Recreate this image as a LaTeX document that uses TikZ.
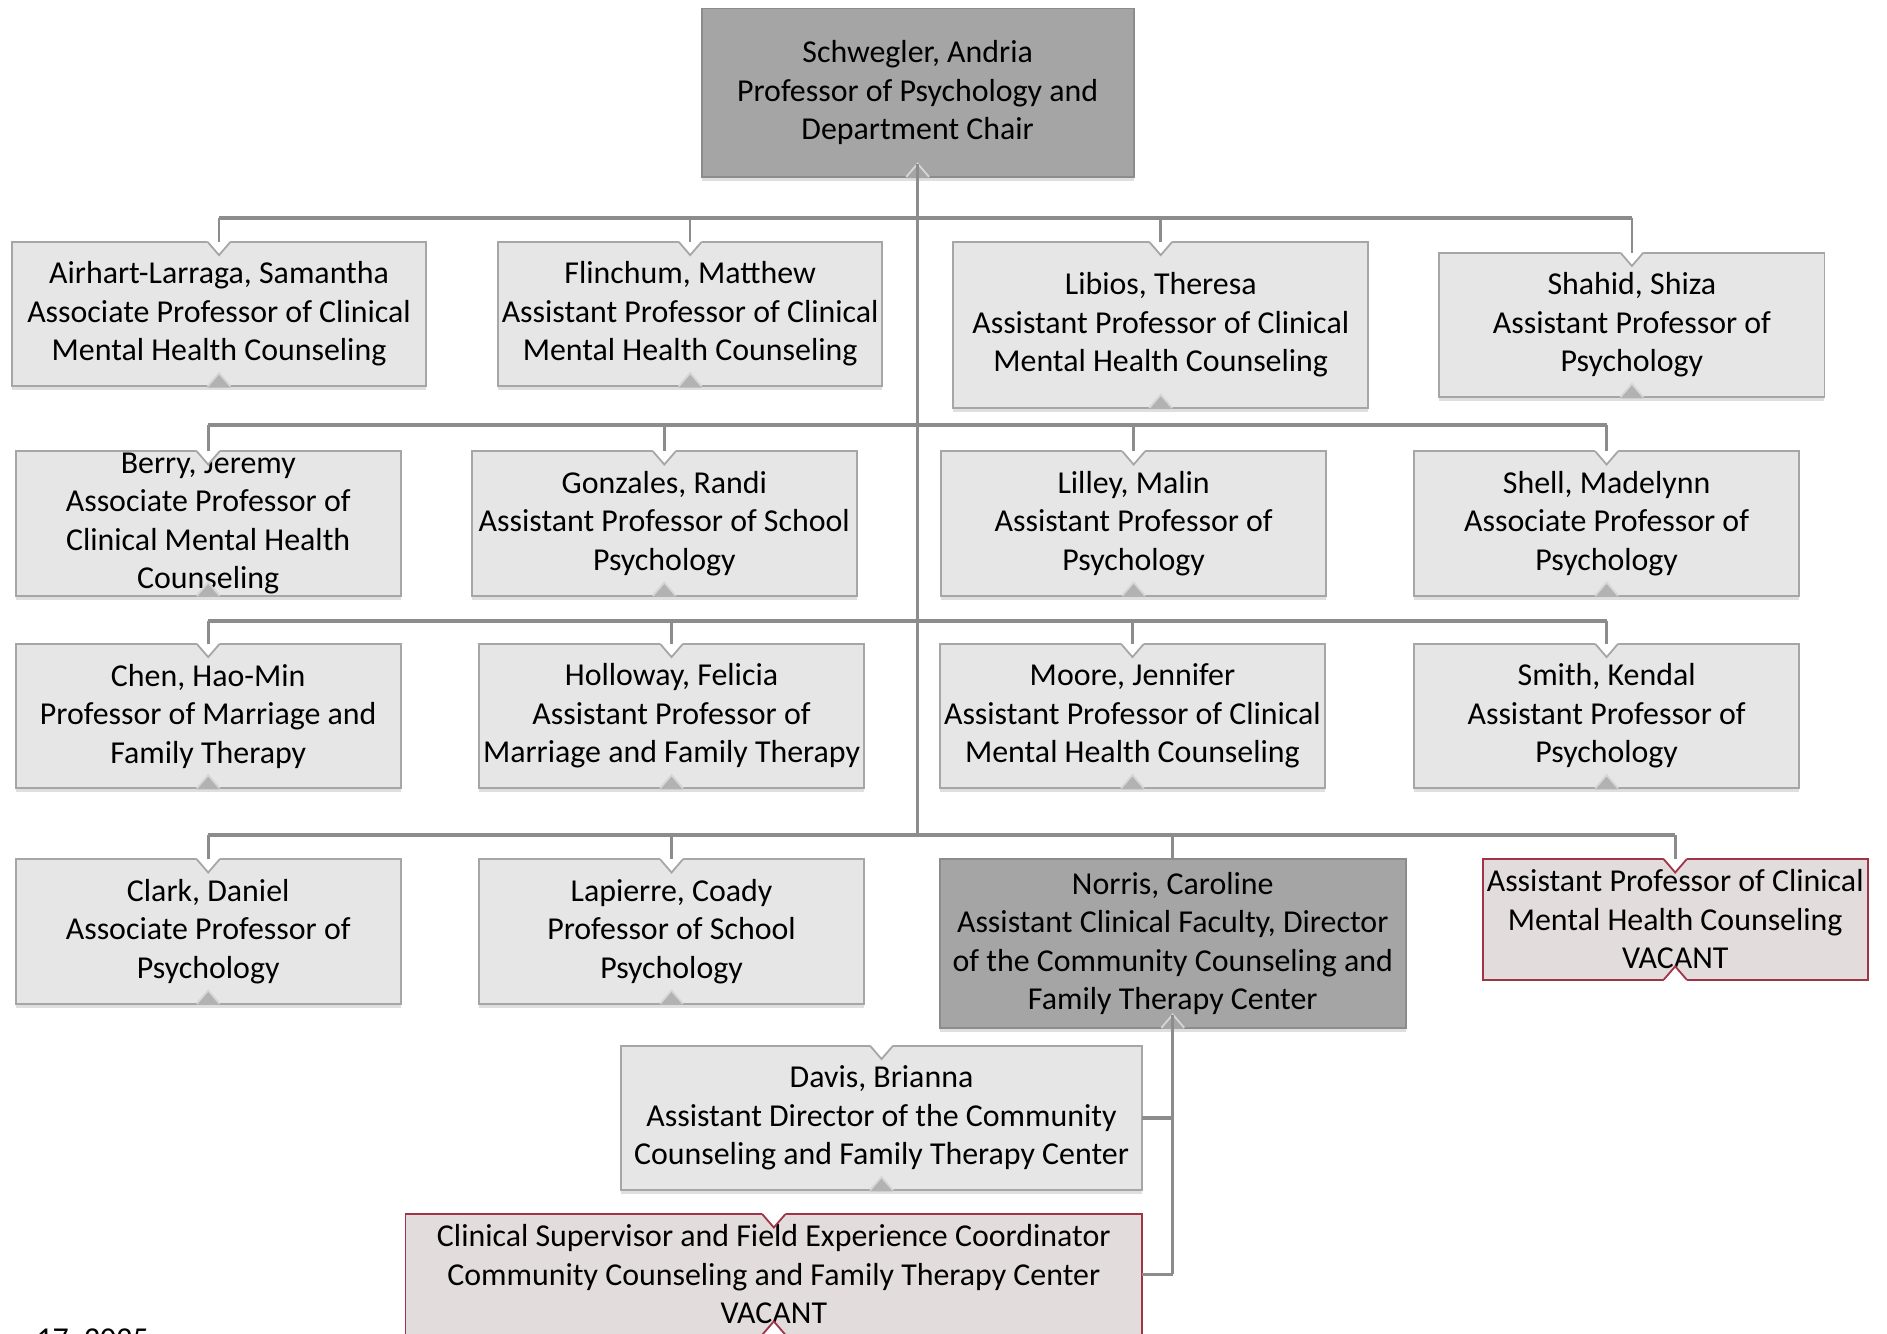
\documentclass[tikz,border=0pt]{standalone}
\usepackage{fontspec}
\setmainfont{Carlito}
\usepackage{tikz}
\usetikzlibrary{shadows}

\definecolor{boxfill}{HTML}{E6E6E6}
\definecolor{boxline}{HTML}{A6A6A6}
\definecolor{darkfill}{HTML}{A5A5A5}
\definecolor{darkline}{HTML}{8C8C8C}
\definecolor{vacfill}{HTML}{E3DCDC}
\definecolor{vacline}{HTML}{9E3446}
\definecolor{linkgray}{HTML}{8C8C8C}
\definecolor{tipgray}{HTML}{B2B2B2}
\definecolor{tiplight}{HTML}{D6D6D6}

\begin{document}
\begin{tikzpicture}[x=0.6pt,y=-0.6pt]
		\tikzstyle{card}=[rectangle, line width=0.9pt, inner sep=0pt, outer sep=0pt, align=center, font=\fontsize{15.9pt}{19.2pt}\selectfont, minimum width=192pt, minimum height=72pt]
		\tikzstyle{person}=[card, draw=boxline, fill=boxfill, drop shadow={shadow xshift=0pt, shadow yshift=-2pt, opacity=0.25}]
		\tikzstyle{head}=[card, draw=darkline, fill=darkfill, drop shadow={shadow xshift=0pt, shadow yshift=-2pt, opacity=0.25}]
		\tikzstyle{vacant}=[card, draw=vacline, fill=vacfill, minimum height=60pt]
		\tikzstyle{link}=[draw=linkgray, line width=1.3pt]
		\tikzstyle{bus}=[draw=linkgray, line width=1.8pt]

		\path [use as bounding box, fill=white] (0,0) rectangle (1568,1108);

		% chair
		\node [head, minimum width=215.4pt, minimum height=84pt] (sch) at (762.5,77) {Schwegler, Andria\\Professor of Psychology and\\Department Chair};

		% first row
		\node [person, minimum width=206.4pt] (air) at (182,261) {Airhart-Larraga, Samantha\\Associate Professor of Clinical\\Mental Health Counseling};
		\node [person, minimum width=191.4pt] (fli) at (573.5,261) {Flinchum, Matthew\\Assistant Professor of Clinical\\Mental Health Counseling};
		\node [person, minimum width=207pt, minimum height=82.8pt] (lib) at (964.5,270) {Libios, Theresa\\Assistant Professor of Clinical\\Mental Health Counseling};
		\node [person] (sha) at (1356,270) {Shahid, Shiza\\Assistant Professor of\\Psychology};

		% second row
		\node [person] (ber) at (173,435) {Berry, Jeremy\\Associate Professor of\\Clinical Mental Health\\Counseling};
		\node [person] (gon) at (552,435) {Gonzales, Randi\\Assistant Professor of School\\Psychology};
		\node [person] (lil) at (942,435) {Lilley, Malin\\Assistant Professor of\\Psychology};
		\node [person] (she) at (1335,435) {Shell, Madelynn\\Associate Professor of\\Psychology};

		% third row
		\node [person] (che) at (173,595) {Chen, Hao-Min\\Professor of Marriage and\\Family Therapy};
		\node [person] (hol) at (558,595) {Holloway, Felicia\\Assistant Professor of\\Marriage and Family Therapy};
		\node [person] (moo) at (941,595) {Moore, Jennifer\\Assistant Professor of Clinical\\Mental Health Counseling};
		\node [person] (smi) at (1335,595) {Smith, Kendal\\Assistant Professor of\\Psychology};

		% fourth row
		\node [person] (cla) at (173,774) {Clark, Daniel\\Associate Professor of\\Psychology};
		\node [person] (lap) at (558,774) {Lapierre, Coady\\Professor of School\\Psychology};
		\node [head, minimum width=232.2pt, minimum height=84pt] (nor) at (974.5,784) {Norris, Caroline\\Assistant Clinical Faculty, Director\\of the Community Counseling and\\Family Therapy Center};
		\node [vacant] (vac1) at (1392,764) {Assistant Professor of Clinical\\Mental Health Counseling\\VACANT};

		% center staff
		\node [person, minimum width=259.8pt] (dav) at (732.5,929) {Davis, Brianna\\Assistant Director of the Community\\Counseling and Family Therapy Center};
		\node [vacant, minimum width=367.2pt] (vac2) at (643,1059) {Clinical Supervisor and Field Experience Coordinator\\Community Counseling and Family Therapy Center\\VACANT};

		\node [font=\fontsize{15.9pt}{19.2pt}\selectfont, anchor=north west, inner sep=0pt] (date) at (30,1103.5) {17, 2025};

		% notches, top
		\foreach \n/\f/\c in {air/white/boxline,fli/white/boxline,lib/white/boxline,sha/white/boxline,ber/white/boxline,gon/white/boxline,lil/white/boxline,she/white/boxline,che/white/boxline,hol/white/boxline,moo/white/boxline,smi/white/boxline,cla/white/boxline,lap/white/boxline,dav/white/boxline,vac1/white/vacline,vac2/white/vacline}{
			\fill [\f] ([xshift=-5.7pt,yshift=0.6pt]\n.north) -- ([xshift=-5.7pt]\n.north) -- ([yshift=-6.6pt]\n.north) -- ([xshift=5.7pt]\n.north) -- ([xshift=5.7pt,yshift=0.6pt]\n.north) -- cycle;
			\draw [\c, line width=0.9pt] ([xshift=-5.7pt]\n.north) -- ([yshift=-6.6pt]\n.north) -- ([xshift=5.7pt]\n.north);
		}
		% notches, bottom
		\foreach \n/\f/\c in {sch/darkfill/tiplight,nor/darkfill/tiplight,air/tipgray/tiplight,fli/tipgray/tiplight,lib/tipgray/tiplight,sha/tipgray/tiplight,ber/tipgray/tiplight,gon/tipgray/tiplight,lil/tipgray/tiplight,she/tipgray/tiplight,che/tipgray/tiplight,hol/tipgray/tiplight,moo/tipgray/tiplight,smi/tipgray/tiplight,cla/tipgray/tiplight,lap/tipgray/tiplight,dav/tipgray/tiplight,vac1/white/vacline,vac2/white/vacline}{
			\fill [\f] ([xshift=-5.7pt,yshift=-0.6pt]\n.south) -- ([xshift=-5.7pt]\n.south) -- ([yshift=6.6pt]\n.south) -- ([xshift=5.7pt]\n.south) -- ([xshift=5.7pt,yshift=-0.6pt]\n.south) -- cycle;
			\draw [\c, line width=0.9pt] ([xshift=-5.7pt]\n.south) -- ([yshift=6.6pt]\n.south) -- ([xshift=5.7pt]\n.south);
		}

		% connectors
		\coordinate (b1) at (0,181);
		\coordinate (b2) at (0,353);
		\coordinate (b3) at (0,516);
		\coordinate (b4) at (0,694);
		\draw [link] ([yshift=6.6pt]sch.south) -- (sch.south |- b4);
		\draw [bus] (air.north |- b1) -- (sha.north |- b1);
		\foreach \n in {air,fli,lib,sha} \draw [link] (\n.north |- b1) -- (\n.north);
		\draw [bus] (ber.north |- b2) -- (she.north |- b2);
		\foreach \n in {ber,gon,lil,she} \draw [link] (\n.north |- b2) -- (\n.north);
		\draw [bus] (che.north |- b3) -- (smi.north |- b3);
		\foreach \n in {che,hol,moo,smi} \draw [link] (\n.north |- b3) -- (\n.north);
		\draw [bus] (cla.north |- b4) -- (vac1.north |- b4);
		\foreach \n in {cla,lap,nor,vac1} \draw [link] (\n.north |- b4) -- (\n.north);
		\draw [link] ([yshift=6.6pt]nor.south) -- (nor.south |- vac2.east);
		\draw [bus] (dav.east) -- (dav.east -| nor.south);
		\draw [bus] (vac2.east) -- (vac2.east -| nor.south);
\end{tikzpicture}
\end{document}
